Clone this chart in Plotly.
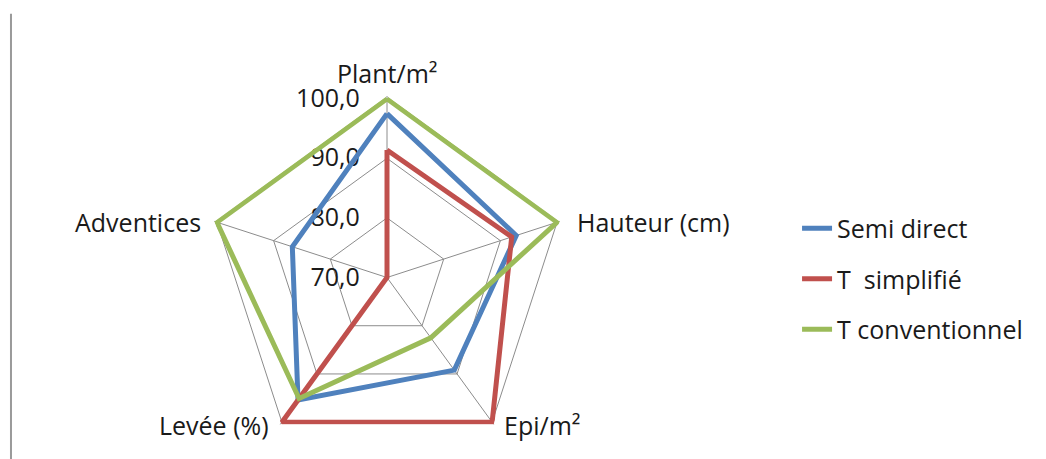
import math
import plotly.graph_objects as go

# Radar axes and measured values per tillage system
categories = ["Plant/m²", "Hauteur (cm)", "Epi/m²", "Levée (%)", "Adventices"]
semi_direct = [97.5, 92.8, 89.2, 95.4, 86.7]
t_simplifie = [91.4, 92.0, 100.0, 100.0, 70.0]
t_conventionnel = [100.0, 100.0, 82.5, 95.1, 100.0]

series_names = ["Semi direct", "T\u00a0 simplifié", "T conventionnel"]
series_colors = ["#4F81BD", "#C0504D", "#9BBB59"]

radial_ticks = [70, 80, 90, 100]
radial_ticktext = ["70,0", "80,0", "90,0", "100,0"]
# a little headroom past 100 so thick lines on the outer ring are not clipped
r_range = [70, 100.45]

FONT = "Open Sans"
TEXT = "#1a1a1a"
GRID = "#8c8c8c"
W, H = 1046, 459

# polar area: square domain so the radius is half its side
side_px = 363
cx_px = 387
dom_x = [(cx_px - side_px / 2) / W, (cx_px + side_px / 2) / W]
dom_y = [0.0, side_px / H]

fig = go.Figure()
for i, (name, vals, col) in enumerate(
    zip(series_names, [semi_direct, t_simplifie, t_conventionnel], series_colors)
):
    fig.add_trace(
        go.Scatterpolar(
            r=vals + vals[:1],
            theta=categories + categories[:1],
            mode="lines",
            name=name,
            legendgroup=f"g{i}",
            line=dict(color=col, width=5),
        )
    )

# category labels placed just outside each spoke tip (at r = 100)
cx = (dom_x[0] + dom_x[1]) / 2
cy = (dom_y[0] + dom_y[1]) / 2
radius_px = side_px / 2 * (radial_ticks[-1] - r_range[0]) / (r_range[1] - r_range[0])
label_style = [  # (xanchor, xshift, yshift)
    ("center", 0, 26),
    ("left", 18, 0),
    ("left", 10, -3),
    ("right", -11, -3),
    ("right", -14, 0),
]
for k, (cat, (xa, xs, ys)) in enumerate(zip(categories, label_style)):
    ang = math.radians(90 - 360 / len(categories) * k)
    fig.add_annotation(
        x=cx + radius_px * math.cos(ang) / W,
        y=cy + radius_px * math.sin(ang) / H,
        xref="paper", yref="paper",
        text=cat, showarrow=False,
        xanchor=xa, yanchor="middle",
        xshift=xs, yshift=ys,
        font=dict(family=FONT, size=25, color=TEXT),
    )

fig.update_layout(
    width=W,
    height=H,
    margin=dict(l=0, r=0, t=0, b=0),
    paper_bgcolor="white",
    plot_bgcolor="white",
    font=dict(family=FONT, size=25, color=TEXT),
    polar=dict(
        domain=dict(x=dom_x, y=dom_y),
        bgcolor="white",
        gridshape="linear",
        radialaxis=dict(
            range=r_range,
            tickvals=radial_ticks,
            ticktext=radial_ticktext,
            angle=90,
            tickangle=90,
            side="counterclockwise",
            showline=False,
            ticks="outside",
            ticklen=18,
            tickcolor="rgba(0,0,0,0)",
            gridcolor=GRID,
            gridwidth=1,
            layer="below traces",
            tickfont=dict(size=25, color=TEXT),
        ),
        angularaxis=dict(
            categoryorder="array",
            categoryarray=categories,
            direction="clockwise",
            rotation=90,
            showline=False,
            gridcolor=GRID,
            gridwidth=1,
            ticks="",
            showticklabels=False,
            layer="below traces",
        ),
    ),
    legend=dict(
        x=0.762,
        y=0.392,
        xanchor="left",
        yanchor="middle",
        traceorder="grouped",
        tracegroupgap=15,
        font=dict(size=25, color=TEXT),
        bgcolor="rgba(0,0,0,0)",
    ),
    showlegend=True,
)

# thin grey rule along the left edge of the figure
fig.add_shape(
    type="line", xref="paper", yref="paper",
    x0=0.0105, x1=0.0105, y0=0.0, y1=0.97,
    line=dict(color="#9a9a9a", width=2),
)

fig.write_html("out.html")
